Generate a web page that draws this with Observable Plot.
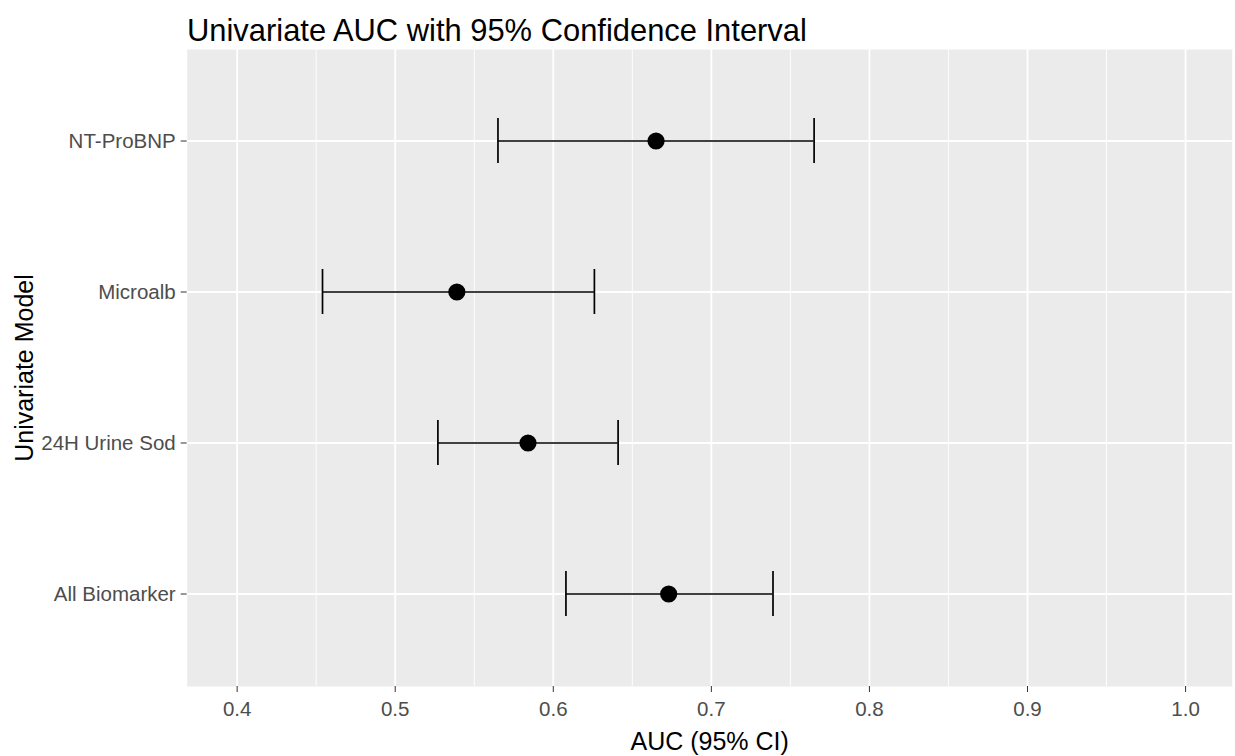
<!DOCTYPE html>
<html>
<head>
<meta charset="utf-8">
<script src="https://cdn.jsdelivr.net/npm/d3@7"></script>
<script src="https://cdn.jsdelivr.net/npm/@observablehq/plot@0.6"></script>
<style>
  html, body { margin: 0; padding: 0; background: #ffffff; overflow: hidden; }
  #wrap { position: relative; width: 1235px; height: 756px; }
  #title {
    position: absolute; left: 187px; top: 16px;
    font-family: "Liberation Sans", Arial, sans-serif;
    font-size: 30.9px; line-height: 30.9px; color: #000000; white-space: nowrap;
  }
</style>
</head>
<body>
<div id="wrap">
  <div id="chart"></div>
  <div id="title">Univariate AUC with 95% Confidence Interval</div>
</div>
<script>
// ---- data ----
const models = ["NT-ProBNP", "Microalb", "24H Urine Sod", "All Biomarker"];
const auc    = [0.665, 0.539, 0.584, 0.673];
const lower  = [0.565, 0.454, 0.527, 0.608];
const upper  = [0.765, 0.626, 0.641, 0.739];
const xTicks = [0.4, 0.5, 0.6, 0.7, 0.8, 0.9, 1.0];
const xMinorTicks = [0.45, 0.55, 0.65, 0.75, 0.85, 0.95];
const xTitle = "AUC (95% CI)";
const yTitle = "Univariate Model";

const data = models.map((m, i) => ({model: m, auc: auc[i], lo: lower[i], hi: upper[i]}));

const chart = Plot.plot({
  width: 1235,
  height: 756,
  marginLeft: 186.7,
  marginRight: 3.3,
  marginTop: 49,
  marginBottom: 70,
  style: {background: "transparent", fontFamily: "'Liberation Sans', Arial, sans-serif", fontSize: "20.5px"},
  x: {domain: [0.3684, 1.0295], axis: null},
  y: {type: "band", domain: models, paddingInner: 0.7, paddingOuter: 0.45, axis: null},
  marks: [
    Plot.frame({fill: "#ebebeb", stroke: "none"}),
    Plot.gridX(xMinorTicks, {stroke: "#ffffff", strokeOpacity: 1, strokeWidth: 0.9}),
    Plot.gridX(xTicks, {stroke: "#ffffff", strokeOpacity: 1, strokeWidth: 1.8}),
    Plot.gridY(models, {stroke: "#ffffff", strokeOpacity: 1, strokeWidth: 1.8}),
    Plot.axisX(xTicks, {
      tickSize: 6, tickPadding: 8.5, stroke: "#333333", fill: "#4d4d4d",
      fontSize: 20.5, tickFormat: d3.format(".1f"), label: null
    }),
    Plot.axisY(models, {
      tickSize: 6, tickPadding: 5.5, stroke: "#333333", fill: "#4d4d4d",
      fontSize: 20.5, label: null
    }),
    Plot.ruleY(data, {y: "model", x1: "lo", x2: "hi", stroke: "#000000", strokeWidth: 1.7}),
    Plot.tickX(data, {x: "lo", y: "model", stroke: "#000000", strokeWidth: 1.7}),
    Plot.tickX(data, {x: "hi", y: "model", stroke: "#000000", strokeWidth: 1.7}),
    Plot.dot(data, {x: "auc", y: "model", r: 8.6, fill: "#000000", stroke: "none"}),
    Plot.text([xTitle], {text: d => d, frameAnchor: "bottom", dy: 55, textAnchor: "middle", lineAnchor: "middle", fontSize: 25, fill: "#000000"}),
    Plot.text([yTitle], {text: d => d, frameAnchor: "left", dx: -162, rotate: -90, textAnchor: "middle", lineAnchor: "middle", fontSize: 25, fill: "#000000"})
  ]
});
document.getElementById("chart").appendChild(chart);
</script>
</body>
</html>
